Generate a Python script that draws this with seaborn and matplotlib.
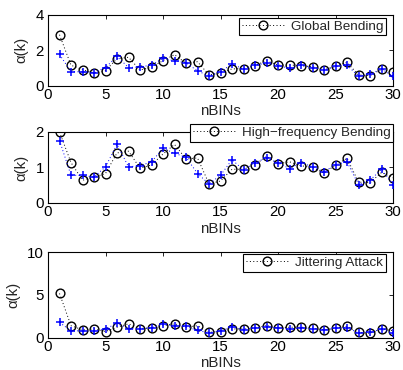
import numpy as np
import pandas as pd
import matplotlib
matplotlib.use("Agg")
import matplotlib.pyplot as plt
import seaborn as sns

sns.set_theme(style="white")
plt.rcParams['font.family'] = ['Liberation Sans', 'DejaVu Sans']

bins = list(range(1, 31))

# blue '+' reference series (same in all panels)
ref_vals = [1.76, 0.78, 0.78, 0.73, 1.02, 1.65, 1.02, 1.05, 1.16, 1.54,
            1.40, 1.29, 0.83, 0.54, 0.78, 1.22, 0.93, 1.14, 1.27, 1.13,
            0.97, 1.14, 1.02, 0.88, 1.08, 1.16, 0.52, 0.64, 0.95, 0.52]

global_bending = [2.88, 1.15, 0.90, 0.71, 0.85, 1.52, 1.60, 0.88, 1.03, 1.41,
                  1.75, 1.26, 1.35, 0.60, 0.71, 0.94, 0.96, 1.13, 1.41, 1.15,
                  1.16, 1.13, 1.07, 0.88, 1.09, 1.31, 0.60, 0.56, 0.92, 0.75]

hf_bending = [2.00, 1.14, 0.64, 0.73, 0.83, 1.41, 1.46, 0.98, 1.07, 1.38,
              1.65, 1.24, 1.27, 0.54, 0.62, 0.95, 0.95, 1.08, 1.31, 1.11,
              1.16, 1.05, 1.00, 0.84, 1.07, 1.26, 0.59, 0.57, 0.86, 0.71]

jittering = [5.15, 1.38, 0.90, 1.00, 0.70, 1.20, 1.60, 1.00, 1.10, 1.38,
             1.60, 1.20, 1.38, 0.60, 0.70, 1.00, 1.00, 1.10, 1.40, 1.10,
             1.20, 1.20, 1.10, 0.90, 1.10, 1.30, 0.60, 0.50, 1.00, 0.80]

labels = ["Global Bending", "High\u2212frequency Bending", "Jittering Attack"]
series = [global_bending, hf_bending, jittering]
ylims = [(0, 4), (0, 2), (0, 10)]
yticks = [[0, 2, 4], [0, 1, 2], [0, 5, 10]]
xticks = [0, 5, 10, 15, 20, 25, 30]

W, H = 403, 370
fig = plt.figure(figsize=(W / 100, H / 100), dpi=100)

# axes boxes in pixels: (left, top, right, bottom)
boxes = [(48, 15, 393, 85.5), (48, 132, 393, 203), (48, 252, 393, 337.5)]
# legend anchors (right, top) in pixels
leg_anchor = [(386, 17.5), (393.3, 124), (385.5, 254)]

fs = 10.8
lfs = 9.7
dot = (0, (1, 2.5))
for i, (lab, vals, yl, yt, bx) in enumerate(zip(labels, series, ylims, yticks, boxes)):
    l, t, r, b = bx
    ax = fig.add_axes([l / W, 1 - b / H, (r - l) / W, (b - t) / H])
    df = pd.DataFrame({"nBINs": bins, "ref": ref_vals, "val": vals})
    sns.lineplot(data=df, x="nBINs", y="val", ax=ax, color="black", linestyle=dot,
                 linewidth=0.7, marker="o", markersize=6.3, markerfacecolor="none",
                 markeredgecolor="black", markeredgewidth=1.0, label=lab, zorder=3)
    sns.lineplot(data=df, x="nBINs", y="ref", ax=ax, color="#0000ff", linestyle=dot,
                 linewidth=0.7, marker="+", markersize=6.3, markeredgewidth=1.1,
                 markeredgecolor="#0000ff", legend=False, zorder=4)
    ax.set_xlim(0, 30)
    ax.set_ylim(*yl)
    ax.set_xticks(xticks)
    ax.set_yticks(yt)
    ax.tick_params(direction="in", length=3, width=0.6, top=True, right=True,
                   labelsize=fs, pad=3, colors="black")
    ax.tick_params(axis="x", pad=1.5)
    for sp in ax.spines.values():
        sp.set_color("black")
        sp.set_linewidth(0.8)
    ax.set_xlabel("nBINs", fontsize=fs, labelpad=2)
    ax.set_ylabel("\u03b1(k)", fontsize=fs, labelpad=5)
    ax.grid(False)
    lx, ly = leg_anchor[i]
    leg = ax.legend(loc="upper right", bbox_to_anchor=(lx / W, 1 - ly / H),
                    bbox_transform=fig.transFigure, fontsize=lfs, frameon=True,
                    fancybox=False, edgecolor="black", framealpha=1,
                    borderpad=0.2, handlelength=3.2, handletextpad=0.45,
                    borderaxespad=0)
    leg.get_frame().set_linewidth(0.8)

fig.savefig("out.png", dpi=100)
